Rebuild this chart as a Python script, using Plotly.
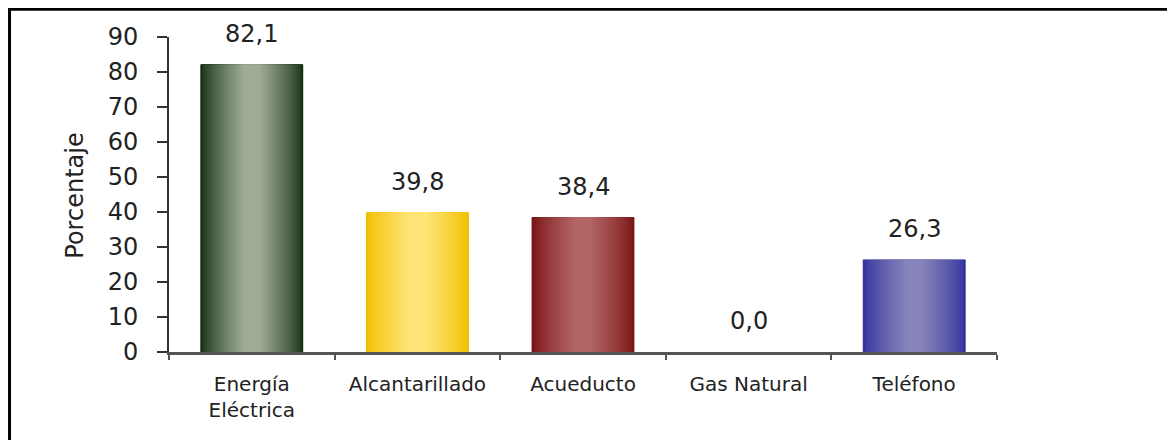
import plotly.graph_objects as go

categories = ["Energía<br>Eléctrica", "Alcantarillado", "Acueducto", "Gas Natural", "Teléfono"]
values = [82.1, 39.8, 38.4, 0.0, 26.3]
y_ticks = [0, 10, 20, 30, 40, 50, 60, 70, 80, 90]

# edge (dark) and centre (light) colours of each bar's cylinder-like gradient
edge_colors = [(24, 52, 24), (242, 192, 0), (122, 20, 22), (255, 255, 255), (52, 52, 158)]
center_colors = [(160, 172, 150), (255, 228, 120), (178, 102, 102), (255, 255, 255), (134, 132, 186)]
outline_colors = ["#0d220d", "#e8b800", "#6a1010", "rgba(0,0,0,0)", "#2a2a90"]

FONT = "DejaVu Sans"
BAR_W = 0.615
N = 30

def mix(a, b, t):
    return "rgb(%d,%d,%d)" % tuple(round(a[i] + (b[i] - a[i]) * t) for i in range(3))

fig = go.Figure()
for k in range(N):
    frac = 1 - k / N          # relative half-width of this layer
    t = (1 - frac) ** 0.8     # how far toward centre colour
    cols = [mix(e, c, min(1, t * 1.15)) for e, c in zip(edge_colors, center_colors)]
    fig.add_trace(go.Bar(
        x=categories, y=values, width=BAR_W * frac,
        marker=dict(color=cols,
                    line=dict(width=1 if k == 0 else 0, color=outline_colors)),
        showlegend=False, hoverinfo="skip",
    ))

for c, v in zip(categories, values):
    fig.add_annotation(x=c, y=v, text=f"{v:.1f}".replace(".", ","), showarrow=False,
                       yanchor="bottom", yshift=15,
                       font=dict(family=FONT, size=24, color="#222"))

fig.add_annotation(xref="paper", yref="paper", x=-0.114, y=0.495, text="Porcentaje",
                   textangle=-90, showarrow=False, xanchor="center", yanchor="middle",
                   font=dict(family=FONT, size=24, color="#222"))

fig.update_layout(
    width=1167, height=432,
    margin=dict(l=161, r=178, t=29, b=88),
    paper_bgcolor="white", plot_bgcolor="white",
    barmode="overlay",
    showlegend=False,
    shapes=[
        dict(type="line", xref="paper", yref="paper", x0=-0.195, x1=1.25, y0=1.088, y1=1.088,
             line=dict(color="black", width=3)),
        dict(type="line", xref="paper", yref="paper", x0=-0.1926, x1=-0.1926, y0=1.09, y1=-0.4,
             line=dict(color="black", width=3)),
    ],
)
fig.update_yaxes(range=[0, 90], tickvals=y_ticks, showgrid=False, zeroline=False,
                 showline=True, linecolor="#333", linewidth=2,
                 ticks="outside", ticklen=10, tickwidth=2, tickcolor="#333",
                 ticklabelstandoff=14,
                 tickfont=dict(family=FONT, size=24, color="#222"))
fig.update_xaxes(range=[-0.5, 4.5], showgrid=False, showline=True, linecolor="#555", linewidth=3,
                 ticks="outside", tickson="boundaries", ticklen=5, tickwidth=2, tickcolor="#555",
                 ticklabelstandoff=12,
                 tickfont=dict(family=FONT, size=20, color="#222"))

fig.write_html("out.html")
